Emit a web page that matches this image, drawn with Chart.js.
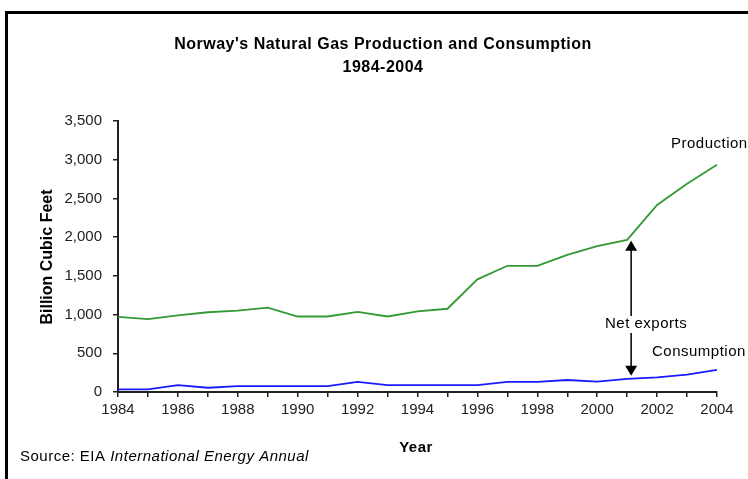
<!DOCTYPE html>
<html>
<head>
<meta charset="utf-8">
<script src="https://cdn.jsdelivr.net/npm/chart.js@4/dist/chart.umd.min.js"></script>
<style>
  html, body { margin: 0; padding: 0; background: #fff; }
  #wrap { position: relative; width: 748px; height: 479px; overflow: hidden; }
  #frame { position: absolute; left: 5px; top: 11px; width: 800px; height: 520px; border: 3px solid #000; box-sizing: border-box; }
  canvas { position: absolute; left: 0; top: 0; }
</style>
</head>
<body>
<div id="wrap">
  <div id="frame"></div>
  <canvas id="chart" width="748" height="479"></canvas>
</div>
<script>
const years = [1984, 1985, 1986, 1987, 1988, 1989, 1990, 1991, 1992, 1993, 1994,
               1995, 1996, 1997, 1998, 1999, 2000, 2001, 2002, 2003, 2004];
const production = [970, 940, 990, 1030, 1050, 1090, 975, 975, 1035, 975, 1040,
                    1075, 1455, 1630, 1630, 1770, 1885, 1965, 2415, 2690, 2935];
const consumption = [35, 35, 90, 55, 75, 75, 75, 75, 130, 90, 90,
                     90, 90, 130, 130, 155, 135, 170, 190, 225, 285];
const yTicks = [0, 500, 1000, 1500, 2000, 2500, 3000, 3500];
const arrowYear = 2001;

const FONT = '"Liberation Sans", Arial, sans-serif';

function drawText(ctx, text, x, y, font, align, spacing) {
  ctx.save();
  ctx.font = font;
  ctx.letterSpacing = (spacing || 0) + 'px';
  ctx.textAlign = align || 'left';
  ctx.textBaseline = 'middle';
  ctx.fillStyle = '#000';
  ctx.fillText(text, x, y);
  ctx.restore();
}

const annotations = {
  id: 'annotations',
  afterDraw(chart) {
    const ctx = chart.ctx;
    const xs = chart.scales.x, ys = chart.scales.y;

    // title
    drawText(ctx, "Norway's Natural Gas Production and Consumption", 383, 45, 'bold 16px ' + FONT, 'center', 0.5);
    drawText(ctx, '1984-2004', 383, 68, 'bold 16px ' + FONT, 'center', 0.5);

    // axis titles
    drawText(ctx, 'Year', 416, 448, 'bold 15px ' + FONT, 'center', 0.5);
    ctx.save();
    ctx.translate(48, 257);
    ctx.rotate(-Math.PI / 2);
    drawText(ctx, 'Billion Cubic Feet', 0, 0, 'bold 16px ' + FONT, 'center', 0);
    ctx.restore();

    // source
    ctx.save();
    ctx.font = '15px ' + FONT;
    ctx.letterSpacing = '0.5px';
    const lead = 'Source: EIA ';
    const w = ctx.measureText(lead).width;
    ctx.restore();
    drawText(ctx, lead, 20, 457, '15px ' + FONT, 'left', 0.5);
    drawText(ctx, 'International Energy Annual', 20 + w, 457, 'italic 15px ' + FONT, 'left', 0.5);

    // series labels
    drawText(ctx, 'Production', 671, 144, '15px ' + FONT, 'left', 0.5);
    drawText(ctx, 'Consumption', 652, 352, '15px ' + FONT, 'left', 0.5);

    // net exports arrow
    const i = years.indexOf(arrowYear);
    const ax = xs.getPixelForValue(arrowYear) + 4;
    const top = ys.getPixelForValue(production[i]) + 1;
    const bot = ys.getPixelForValue(consumption[i]) - 3;
    const textY = 324;
    ctx.save();
    ctx.strokeStyle = '#000';
    ctx.fillStyle = '#000';
    ctx.lineWidth = 1.5;
    ctx.beginPath();
    ctx.moveTo(ax, top + 9);
    ctx.lineTo(ax, textY - 8);
    ctx.moveTo(ax, textY + 9);
    ctx.lineTo(ax, bot - 9);
    ctx.stroke();
    ctx.beginPath();
    ctx.moveTo(ax, top);
    ctx.lineTo(ax - 6, top + 10);
    ctx.lineTo(ax + 6, top + 10);
    ctx.closePath();
    ctx.fill();
    ctx.beginPath();
    ctx.moveTo(ax, bot);
    ctx.lineTo(ax - 6, bot - 10);
    ctx.lineTo(ax + 6, bot - 10);
    ctx.closePath();
    ctx.fill();
    ctx.restore();
    drawText(ctx, 'Net exports', 605, textY, '15px ' + FONT, 'left', 0.5);
  }
};

new Chart(document.getElementById('chart'), {
  type: 'line',
  data: {
    datasets: [
      {
        label: 'Production',
        data: years.map((y, i) => ({ x: y, y: production[i] })),
        borderColor: '#339933',
        borderWidth: 1.8,
        pointRadius: 0,
        tension: 0
      },
      {
        label: 'Consumption',
        data: years.map((y, i) => ({ x: y, y: consumption[i] })),
        borderColor: '#1a1aff',
        borderWidth: 1.8,
        pointRadius: 0,
        tension: 0
      }
    ]
  },
  options: {
    responsive: false,
    animation: false,
    devicePixelRatio: 1,
    layout: { padding: { left: 0, top: 121, right: 31, bottom: 57 } },
    plugins: {
      legend: { display: false },
      title: { display: false },
      tooltip: { enabled: false }
    },
    scales: {
      x: {
        type: 'linear',
        min: years[0],
        max: years[years.length - 1],
        afterFit: s => { s.height = 30; },
        border: { color: '#222', width: 2 },
        grid: { drawOnChartArea: false, drawTicks: true, tickLength: 5, color: '#222', lineWidth: 1.5 },
        ticks: {
          stepSize: 1,
          autoSkip: false,
          maxRotation: 0,
          padding: 4,
          color: '#222',
          font: { family: FONT, size: 15 },
          callback: v => (v % 2 === 0 ? String(v) : '')
        }
      },
      y: {
        min: yTicks[0],
        max: yTicks[yTicks.length - 1],
        afterFit: s => { s.width = 118; },
        afterBuildTicks: s => { s.ticks = yTicks.map(v => ({ value: v })); },
        border: { color: '#222', width: 2 },
        grid: { drawOnChartArea: false, drawTicks: true, tickLength: 5, color: '#222', lineWidth: 1.5 },
        ticks: {
          padding: 11,
          color: '#222',
          font: { family: FONT, size: 15 },
          callback: v => v.toLocaleString('en-US')
        }
      }
    }
  },
  plugins: [annotations]
});
</script>
</body>
</html>
